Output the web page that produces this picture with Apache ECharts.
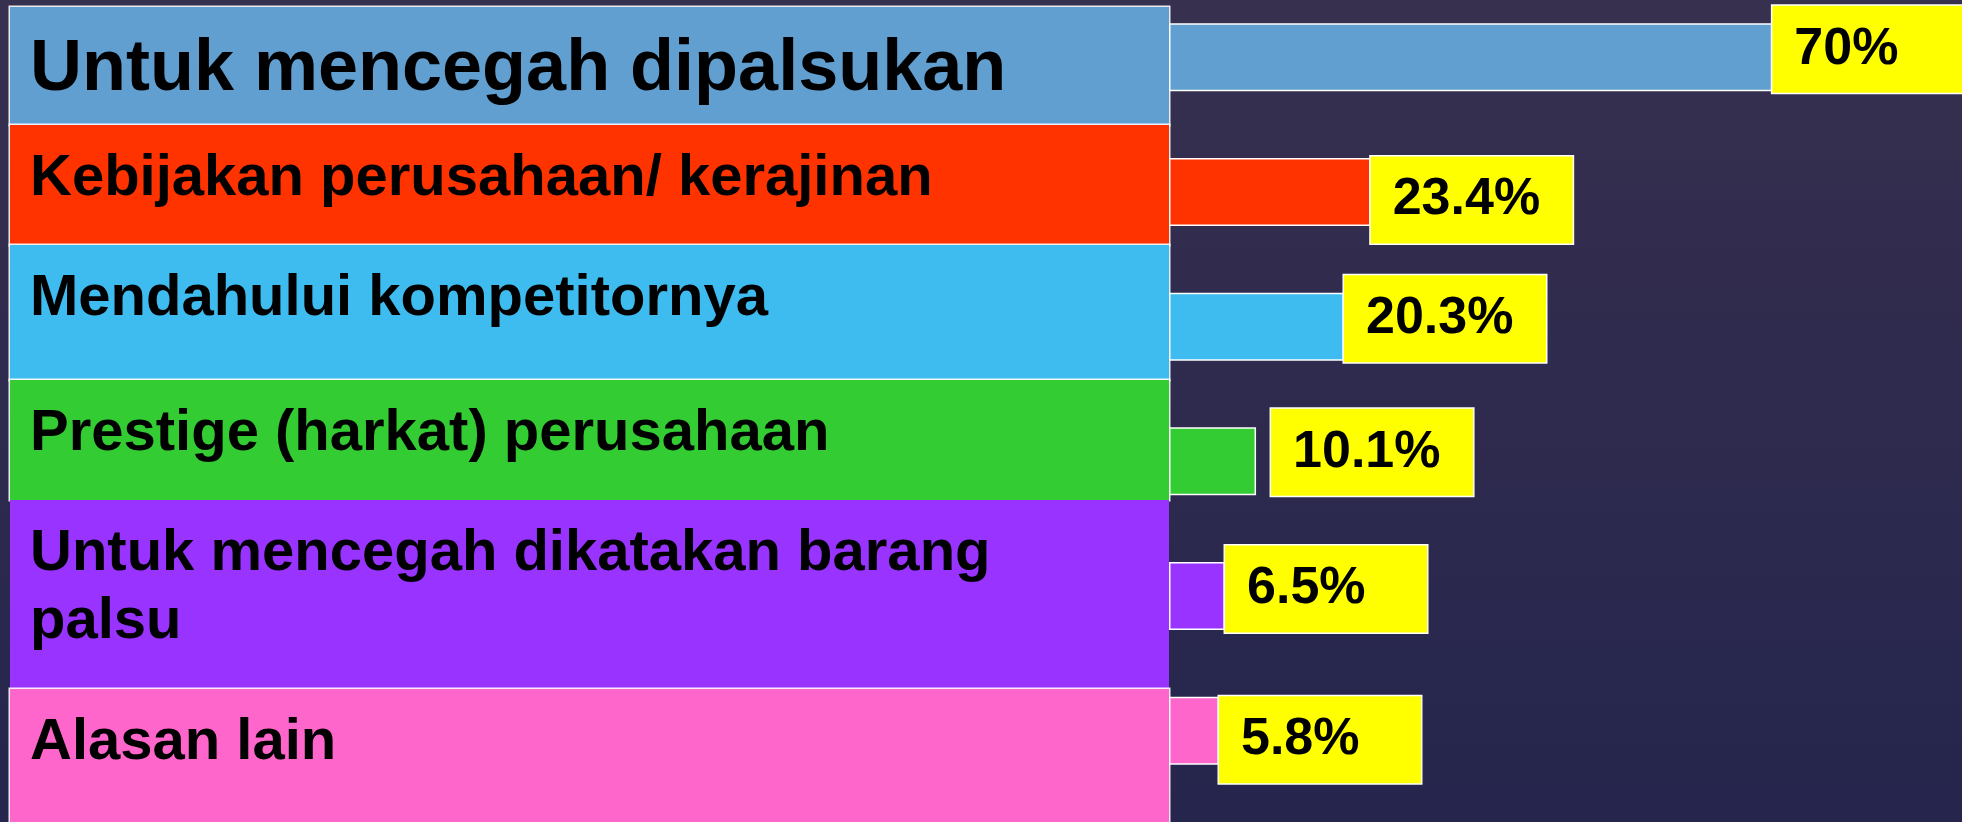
<!DOCTYPE html>
<html>
<head>
<meta charset="utf-8">
<title>Alasan</title>
<script src="https://cdn.jsdelivr.net/npm/echarts@6/dist/echarts.min.js"></script>
<style>
  html, body { margin: 0; padding: 0; background: #2e2b4f; }
  #chart { width: 1962px; height: 822px; }
</style>
</head>
<body>
<div id="chart"></div>
<script>
// data
const categories = [
  'Untuk mencegah dipalsukan',
  'Kebijakan perusahaan/ kerajinan',
  'Mendahului kompetitornya',
  'Prestige (harkat) perusahaan',
  'Untuk mencegah dikatakan barang\npalsu',
  'Alasan lain'
]
const values = [70, 23.4, 20.3, 10.1, 6.5, 5.8]
const colors = ['#619fd1', '#ff3300', '#3fbcef', '#33cc33', '#9933ff', '#ff66cc']

// panel box layout (style only)
const rowHeight = [118, 120, 135, 120, 189, 141]
const rowShift = [8.7, -7, -14.2, -21.3, -1.5, 28.8]
const labelOffset = [[0, -8], [0, 8], [0, -8], [15, -9], [0, -7], [0, 9]]

const FONT = "'Liberation Sans', Arial, sans-serif"

// rich styles for the coloured label boxes on the left
const rich = {}
const boxBase = (i) => ({
  width: 1139,
  backgroundColor: colors[i],
  color: '#000',
  fontFamily: FONT,
  fontWeight: 'bold',
  align: 'left'
})

categories.forEach((name, i) => {
  const lines = name.split('\n')
  const big = i === 0
  const lh = big ? 82 : 68
  const pt = big ? (rowHeight[i] - lh) / 2 + 4 : 20
  const pb = rowHeight[i] - pt - lines.length * lh
  if (lines.length === 1) {
    // one line: padding gives the box its height
    rich[`r${i}l0`] = Object.assign(boxBase(i), {
      height: lh,
      lineHeight: lh,
      padding: [pt, 0, pb, 20],
      borderColor: 'rgba(255,255,255,0.9)',
      borderWidth: 1.5,
      fontSize: big ? 72 : 58
    })
  } else {
    // several lines: filler lines above and below the text
    rich[`r${i}t`] = Object.assign(boxBase(i), { height: pt, lineHeight: pt, fontSize: 1, padding: [0, 0, 0, 20] })
    rich[`r${i}b`] = Object.assign(boxBase(i), { height: pb, lineHeight: pb, fontSize: 1, padding: [0, 0, 0, 20] })
    lines.forEach((_, k) => {
      rich[`r${i}l${k}`] = Object.assign(boxBase(i), {
        height: lh, lineHeight: lh, fontSize: 58, padding: [0, 0, 0, 20]
      })
    })
  }
  const sp = Math.max(1, Math.abs(rowShift[i]) * 2)
  rich[`sp${i}`] = { height: sp, lineHeight: sp, fontSize: 1, padding: 0 }
})

const labelFormatter = (value, index) => {
  const parts = value.split('\n')
  let lines = parts.map((t, k) => `{r${index}l${k}|${t}}`)
  if (parts.length > 1) {
    lines = [`{r${index}t| }`].concat(lines, [`{r${index}b| }`])
  }
  const body = lines.join('\n')
  const spacer = `{sp${index}| }`
  return rowShift[index] >= 0 ? spacer + '\n' + body : body + '\n' + spacer
}

const chart = echarts.init(document.getElementById('chart'))

chart.setOption({
  backgroundColor: {
    type: 'linear', x: 0, y: 0, x2: 0, y2: 1,
    colorStops: [
      { offset: 0, color: '#37304f' },
      { offset: 1, color: '#25254d' }
    ]
  },
  animation: false,
  grid: {
    left: 1169,
    right: 0,
    top: -10,
    bottom: 24,
    containLabel: false,
    outerBoundsMode: 'none'
  },
  xAxis: {
    type: 'value',
    min: 0,
    max: 92,
    show: false
  },
  yAxis: {
    type: 'category',
    inverse: true,
    data: categories,
    axisLine: { show: false },
    axisTick: { show: false },
    splitLine: { show: false },
    axisLabel: {
      interval: 0,
      margin: 0,
      formatter: labelFormatter,
      rich: rich
    }
  },
  series: [
    {
      type: 'bar',
      barWidth: 68,
      data: values.map((v, i) => ({
        value: v,
        itemStyle: { color: colors[i] },
        label: { offset: labelOffset[i] }
      })),
      itemStyle: {
        borderColor: '#ffffff',
        borderWidth: 1.5
      },
      label: {
        show: true,
        position: 'right',
        distance: 0,
        formatter: '{c}%',
        color: '#000',
        fontFamily: FONT,
        fontWeight: 'bold',
        fontSize: 52,
        backgroundColor: '#ffff00',
        borderColor: '#ffffff',
        borderWidth: 1.5,
        padding: [14, 0, 13, 22],
        width: 180,
        height: 60,
        lineHeight: 60,
        align: 'left',
        verticalAlign: 'middle'
      }
    }
  ]
})
</script>
</body>
</html>
